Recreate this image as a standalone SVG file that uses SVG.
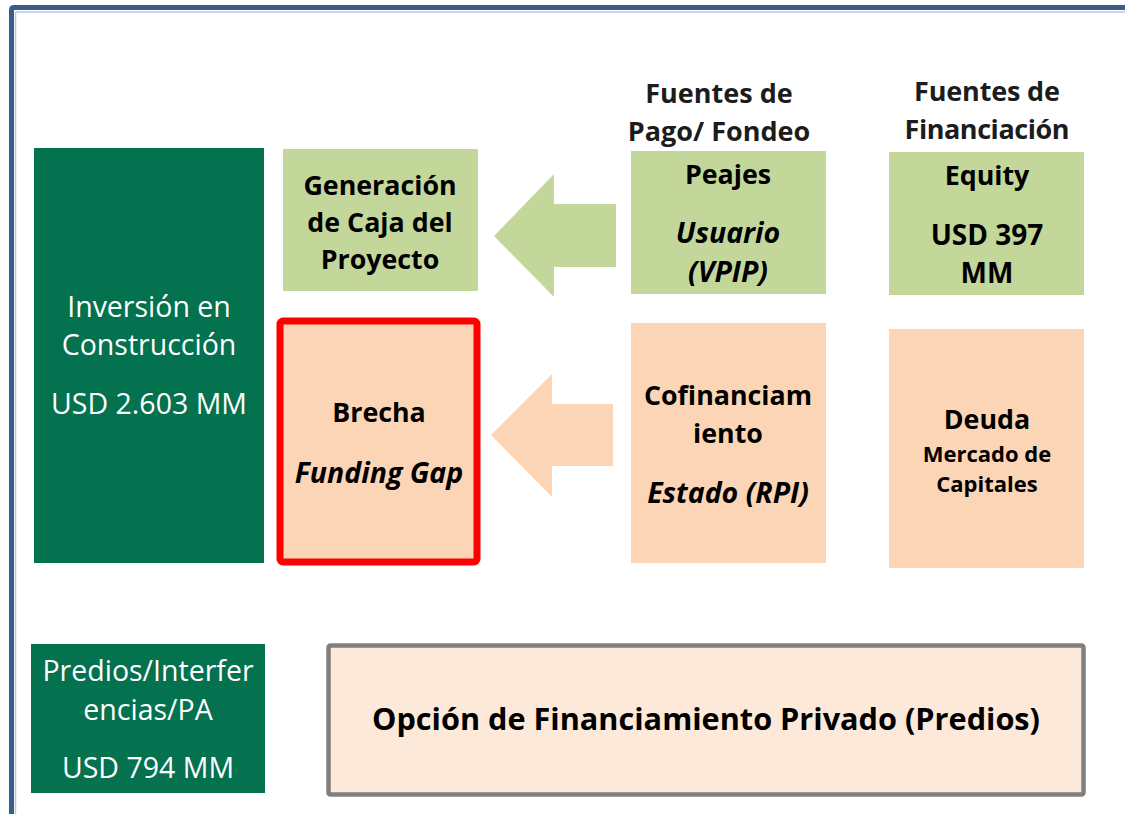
<svg xmlns="http://www.w3.org/2000/svg" width="1125" height="814" viewBox="0 0 1125 814">
<style>
.t{font-family:"Open Sans","Noto Sans","Liberation Sans",sans-serif;text-anchor:middle;}
.b{font-weight:bold;font-size:26.8px;fill:#000;}
.h{font-weight:bold;font-size:27px;fill:#1c1c1c;}
.i{font-style:italic;font-size:28.5px;}
.n{font-size:28px;}
.w{font-size:28.5px;fill:#fff;}
.s{font-weight:bold;font-size:22px;fill:#000;}
.dg{fill:#04714F;}
.lg{fill:#C4D79B;}
.pc{fill:#FBD5B5;}
</style>
<rect width="1125" height="814" fill="#fff"/>
<g id="frame">
<path d="M15.5,814 V13 Q15.5,12 16.5,12 H1125" fill="none" stroke="#B8C8DE" stroke-width="1.5"/>
<path d="M11.5,814 V10 Q11.5,7.5 14,7.5 H1125" fill="none" stroke="#3A5E8C" stroke-width="5"/>
</g>
<g id="headers">
<text class="t h" x="719" y="103">Fuentes de</text>
<text class="t h" x="719" y="141">Pago/ Fondeo</text>
<text class="t h" x="987" y="101" textLength="146">Fuentes de</text>
<text class="t h" x="987" y="139" textLength="165">Financiación</text>
</g>
<g id="connectors">
<polygon class="lg" points="494,236 554,174 554,204 616,204 616,267 554,267 554,297"/>
<polygon class="pc" points="491,435 552,374 552,404 613,404 613,466 552,466 552,497"/>
</g>
<g id="inversion">
<rect class="dg" x="34" y="148" width="230" height="415"/>
<text class="t w" x="149" y="317">Inversión en</text>
<text class="t w" x="149" y="355">Construcción</text>
<text class="t w" x="149" y="414">USD 2.603 MM</text>
</g>
<g id="generacion">
<rect class="lg" x="283" y="149" width="195" height="142"/>
<text class="t b" x="380" y="195">Generación</text>
<text class="t b" x="380" y="232">de Caja del</text>
<text class="t b" x="380" y="269">Proyecto</text>
</g>
<g id="brecha">
<rect class="pc" x="280" y="321" width="197" height="241" rx="3" stroke="#FF0000" stroke-width="7"/>
<text class="t b" x="379" y="422">Brecha</text>
<text class="t b i" x="379" y="483">Funding Gap</text>
</g>
<g id="peajes">
<rect class="lg" x="631" y="151" width="195" height="143"/>
<text class="t b" x="728" y="184">Peajes</text>
<text class="t b i" x="728" y="243">Usuario</text>
<text class="t b i" x="728" y="282">(VPIP)</text>
</g>
<g id="cofinanciamiento">
<rect class="pc" x="631" y="323" width="195" height="240"/>
<text class="t b" x="728" y="405">Cofinanciam</text>
<text class="t b" x="728" y="443">iento</text>
<text class="t b i" x="728" y="503">Estado (RPI)</text>
</g>
<g id="equity">
<rect class="lg" x="889" y="152" width="195" height="143"/>
<text class="t b" x="987" y="185">Equity</text>
<text class="t b n" x="987" y="245">USD 397</text>
<text class="t b n" x="987" y="283">MM</text>
</g>
<g id="deuda">
<rect class="pc" x="889" y="329" width="195" height="239"/>
<text class="t b" x="987" y="429">Deuda</text>
<text class="t s" x="987" y="462">Mercado de</text>
<text class="t s" x="987" y="492">Capitales</text>
</g>
<g id="predios">
<rect class="dg" x="31" y="644" width="234" height="149"/>
<text class="t w" x="148" y="681">Predios/Interfer</text>
<text class="t w" x="148" y="720">encias/PA</text>
<text class="t w" x="148" y="778">USD 794 MM</text>
</g>
<g id="opcion">
<rect x="328.5" y="645.5" width="755" height="149" rx="2" fill="#FDE9D9" stroke="#7F7F7F" stroke-width="4.5"/>
<text class="t b" x="706" y="730" style="font-size:29.5px" textLength="668" lengthAdjust="spacingAndGlyphs">Opción de Financiamiento Privado (Predios)</text>
</g>
</svg>
